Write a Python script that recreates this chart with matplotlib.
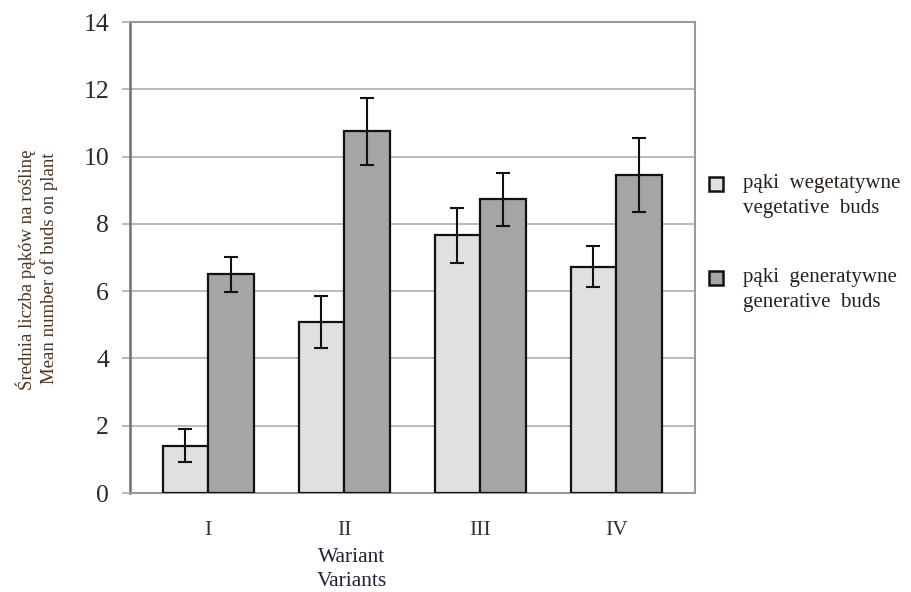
import numpy as np
import matplotlib
matplotlib.use("Agg")
import matplotlib.pyplot as plt
from matplotlib.patches import Rectangle

plt.rcParams["font.family"] = ["Liberation Serif", "DejaVu Serif"]

# -- data
variants = ["I", "II", "III", "IV"]
veg_mean = [1.41, 5.09, 7.66, 6.73]
veg_err = [0.50, 0.77, 0.81, 0.62]
gen_mean = [6.50, 10.75, 8.73, 9.44]
gen_err = [0.52, 1.00, 0.78, 1.10]

veg_label = ["pąki  wegetatywne", "vegetative  buds"]
gen_label = ["pąki  generatywne", "generative  buds"]

# -- figure
fig = plt.figure(figsize=(9.12, 5.92), dpi=100)
ax = fig.add_axes([130 / 912, 1 - 493 / 592, 565 / 912, 471 / 592])

x = np.arange(len(variants))
w = 0.335
bar_kw = dict(edgecolor="#111111", linewidth=1.6, zorder=3)
err_kw = dict(ecolor="#111111", elinewidth=1.5, capsize=4.8, capthick=1.5, zorder=4)

b1 = ax.bar(x - w / 2, veg_mean, w, color="#e0e0e0",
            yerr=veg_err, error_kw=err_kw, **bar_kw)
b2 = ax.bar(x + w / 2, gen_mean, w, color="#a5a5a5",
            yerr=gen_err, error_kw=err_kw, **bar_kw)

ax.set_xlim(-0.574, 3.58)
ax.set_ylim(0, 14)
ax.set_yticks(np.arange(0, 15, 2))
ax.yaxis.grid(True, color="#b4b4b4", linewidth=1.3, zorder=0)
ax.set_axisbelow(True)

ax.set_xticks(x)
ax.set_xticklabels(variants, fontsize=15.5, color="#333333")
ax.tick_params(axis="x", length=0, pad=20)
ax.tick_params(axis="y", length=6, width=1.3, color="#b4b4b4",
               labelsize=18.5, labelcolor="#2a2a2a", pad=9)

for s in ["top", "right", "bottom"]:
    ax.spines[s].set_color("#9a9a9a")
    ax.spines[s].set_linewidth(1.5)
ax.spines["left"].set_color("#707070")
ax.spines["left"].set_linewidth(1.8)

# -- axis titles
fig.text(352 / 912, 1 - 557 / 592, "Wariant", ha="center", va="center",
         fontsize=15.5, color="#1c2233")
fig.text(352 / 912, 1 - 582 / 592, "Variants", ha="center", va="center",
         fontsize=15.5, color="#1c2233")
fig.text(26 / 912, 1 - 270 / 592, "Średnia liczba pąków na roślinę",
         rotation=90, ha="center", va="center", fontsize=13.5, color="#4a3320")
fig.text(49 / 912, 1 - 268 / 592, "Mean number of buds on plant",
         rotation=90, ha="center", va="center", fontsize=13.5, color="#4a3320")

# -- legend (square next to first line, second line underneath)
for bars, lab, y0 in [(b1, veg_label, 184), (b2, gen_label, 278)]:
    fig.patches.append(Rectangle((709 / 912, 1 - (y0 + 7) / 592), 14 / 912, 14 / 592,
                                 transform=fig.transFigure, facecolor=bars[0].get_facecolor(),
                                 edgecolor="#111111", linewidth=1.8))
    fig.text(743 / 912, 1 - y0 / 592, lab[0], ha="left", va="center",
             fontsize=15, color="#2a2018")
    fig.text(743 / 912, 1 - (y0 + 24) / 592, lab[1], ha="left", va="center",
             fontsize=15, color="#2a2018")

fig.savefig("out.png", dpi=100)
